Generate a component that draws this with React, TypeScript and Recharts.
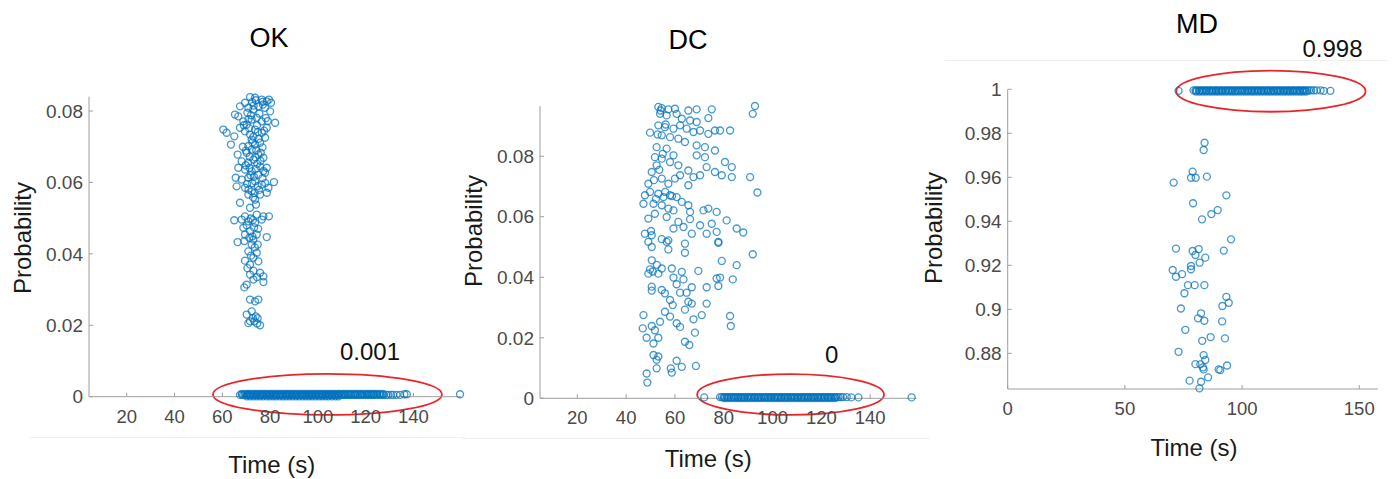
import { ScatterChart, Scatter, XAxis, YAxis, ReferenceArea } from "recharts";

// ---- OK panel ----
const okCluster: [number, number][] = [
  [71.6, 0.0839], [73.7, 0.0837], [76.5, 0.0832], [78.6, 0.0827], [80.4, 0.0823], [69.5, 0.0823],
  [67.4, 0.0813], [65.3, 0.079], [66.7, 0.0785], [70.9, 0.0809], [73.0, 0.0804], [75.1, 0.0813],
  [77.9, 0.0809], [80.0, 0.0799], [82.1, 0.0767], [68.8, 0.0771], [70.2, 0.0762], [72.3, 0.0776],
  [74.4, 0.0781], [76.5, 0.0771], [78.6, 0.0753], [67.4, 0.0753], [69.5, 0.0743], [71.6, 0.0734],
  [73.7, 0.0748], [76.5, 0.0739], [60.4, 0.0748], [61.8, 0.0739], [65.0, 0.0729], [63.6, 0.0706],
  [72.3, 0.072], [70.9, 0.0702], [73.7, 0.0706], [75.8, 0.0711], [77.9, 0.0725], [66.4, 0.0678],
  [70.2, 0.0683], [72.3, 0.0692], [75.1, 0.0678], [77.2, 0.0669], [68.1, 0.0659], [70.9, 0.0655],
  [73.0, 0.0664], [75.8, 0.0645], [78.6, 0.0641], [66.7, 0.0641], [69.5, 0.0636], [72.3, 0.0631],
  [75.1, 0.0622], [77.9, 0.0627], [65.6, 0.0613], [68.1, 0.0608], [70.9, 0.0613], [73.7, 0.0603],
  [76.5, 0.0594], [79.3, 0.0585], [81.6, 0.0601], [66.0, 0.0589], [69.5, 0.0585], [72.3, 0.0575],
  [75.8, 0.0566], [78.6, 0.0571], [70.9, 0.0566], [73.7, 0.0552], [67.4, 0.0543], [71.6, 0.0529],
  [69.5, 0.0505], [74.4, 0.051], [77.2, 0.0505], [79.5, 0.0505], [65.0, 0.0494], [68.1, 0.0496],
  [70.9, 0.0491], [73.7, 0.0487], [76.5, 0.0496], [68.8, 0.0473], [71.6, 0.0463], [74.4, 0.0454],
  [78.6, 0.0447], [69.5, 0.0454], [73.0, 0.044], [66.4, 0.0433], [69.2, 0.0436], [72.3, 0.0426],
  [74.8, 0.0426], [70.9, 0.0407], [74.4, 0.0403], [73.0, 0.0389], [69.5, 0.0381], [75.1, 0.0379],
  [71.6, 0.037], [73.0, 0.0353], [71.6, 0.0342], [75.8, 0.0347], [77.2, 0.0337], [73.0, 0.0328],
  [77.2, 0.0321], [70.2, 0.0314], [69.2, 0.0306], [71.6, 0.0272], [73.7, 0.0267], [75.1, 0.0272],
  [70.2, 0.023], [72.3, 0.0239], [74.0, 0.0225], [71.6, 0.0211], [73.4, 0.0211], [70.9, 0.0206],
  [75.8, 0.02], [74.8, 0.022],
  [72.5, 0.0825], [74.0, 0.083], [77.0, 0.0818], [79.5, 0.0832], [70.5, 0.0795], [72.0, 0.0788],
  [75.5, 0.0793], [78.2, 0.078], [69.0, 0.076], [71.2, 0.0752], [74.5, 0.076], [77.5, 0.0745],
  [73.0, 0.0728], [75.2, 0.0722], [68.6, 0.07], [74.2, 0.069], [76.8, 0.0698], [71.5, 0.0672],
  [73.8, 0.067], [76.0, 0.066], [69.8, 0.0648], [74.0, 0.0638], [77.2, 0.0632], [71.8, 0.062],
  [76.8, 0.0612], [72.5, 0.0598], [74.8, 0.059], [78.0, 0.0598], [71.0, 0.058], [73.5, 0.057],
  [72.8, 0.0495], [70.2, 0.048], [75.0, 0.047], [71.3, 0.0445], [73.6, 0.0418], [72.0, 0.0395],
  [70.5, 0.036], [74.5, 0.0335], [72.8, 0.022], [74.6, 0.0205],
  [73.1, 0.0815], [76.9, 0.0826], [71.0, 0.0777], [79.0, 0.0772], [74.9, 0.0741], [72.6, 0.0712],
  [69.9, 0.0689], [76.1, 0.0683], [74.6, 0.0652], [71.4, 0.0641], [73.2, 0.0616], [70.4, 0.0596],
  [75.4, 0.0579], [72.9, 0.0558], [74.1, 0.0538], [71.9, 0.0499], [73.3, 0.0474], [72.6, 0.0449],
];
const okBandMid = [
  67.4, 68.3, 68.8, 69.9, 70.4, 71.0, 71.9, 72.3, 73.2, 74.0, 74.5, 75.4, 76.2, 76.6, 77.5, 78.4,
  78.9, 79.8, 80.3, 81.1, 82.0, 82.6, 83.3, 84.1, 84.6, 85.5, 86.4, 86.9, 87.7, 88.5, 89.0, 89.9,
  90.7, 91.2, 92.0, 92.9, 93.4, 94.2, 95.0, 95.6, 96.5, 97.1, 97.8, 98.7, 99.3, 100.0, 100.9, 101.5,
  102.2, 103.1, 103.6, 104.5, 105.3, 105.8, 106.7, 107.4, 108.0, 108.9, 109.6, 110.2, 111.1, 111.7,
  112.5, 113.3, 113.8, 114.7, 115.5, 116.1, 116.8, 117.7, 118.3, 119.0, 119.9, 120.5, 121.2, 122.1,
  122.7, 123.4, 124.3, 125.0, 125.9, 126.8, 127.5, 128.6, 129.4, 130.6, 131.5, 132.9, 134.4,
];
const okBandTop = [
  68.1, 69.4, 70.6, 71.5, 72.8, 73.9, 75.0, 76.1, 77.3, 78.2, 79.5, 80.6, 81.7, 82.8, 83.9, 85.0,
  86.2, 87.2, 88.3, 89.5, 90.4, 91.6, 92.7, 93.8, 94.9, 96.0, 97.2, 98.1, 99.4, 100.5, 101.6, 102.6,
  103.8, 104.9, 106.0, 107.1, 108.3, 109.2, 110.5, 111.4, 112.6, 113.7, 114.9, 115.8, 117.0, 118.1,
  119.2, 120.4, 121.3, 122.5, 123.6, 124.7, 125.9, 127.3,
];
const okBandLow = [
  70.2, 71.6, 73.0, 74.3, 75.7, 77.0, 78.6, 79.9, 81.3, 82.5, 84.0, 85.3, 86.7, 88.0, 89.4, 90.8,
  92.1, 93.6, 94.9, 96.3, 97.6, 99.0, 100.5, 101.8, 103.2, 104.4, 105.9, 107.3, 108.6,
];
const okOutliers = [136.2, 137.2, 159.5];

// ---- DC panel ----
const dcCluster: [number, number][] = [
  [53.2, 0.0963], [54.6, 0.0959], [57.3, 0.0955], [60.0, 0.0957], [65.5, 0.0951], [68.9, 0.0955],
  [75.1, 0.0955], [92.8, 0.0966], [91.9, 0.094], [53.9, 0.094], [56.6, 0.0935], [60.7, 0.094],
  [62.8, 0.0924], [66.2, 0.0918], [68.9, 0.0913], [73.7, 0.0926], [49.8, 0.0878], [53.2, 0.0902],
  [55.9, 0.0896], [59.4, 0.0891], [62.1, 0.0902], [64.8, 0.0891], [67.6, 0.088], [70.3, 0.0885],
  [73.7, 0.0874], [76.4, 0.0885], [78.5, 0.0885], [82.6, 0.0885], [54.6, 0.0869], [58.0, 0.0863],
  [61.4, 0.0858], [64.1, 0.0847], [68.9, 0.0836], [72.3, 0.083], [76.4, 0.0819], [52.5, 0.083],
  [56.6, 0.0825], [59.4, 0.0803], [51.8, 0.0797], [54.6, 0.0792], [58.0, 0.0781], [61.4, 0.077],
  [65.5, 0.0753], [68.9, 0.0803], [72.3, 0.0797], [67.6, 0.0731], [70.3, 0.0737], [73.0, 0.0764],
  [76.4, 0.0748], [79.2, 0.0737], [80.5, 0.0781], [83.3, 0.0764], [83.3, 0.0731], [90.8, 0.0731],
  [93.8, 0.068], [49.1, 0.0709], [50.5, 0.0748], [52.5, 0.077], [54.6, 0.0726], [57.3, 0.0709],
  [60.0, 0.0726], [62.1, 0.0737], [65.5, 0.0704], [47.7, 0.0671], [49.8, 0.0682], [53.2, 0.0676],
  [55.3, 0.0665], [58.0, 0.0671], [60.7, 0.0665], [62.8, 0.0649], [65.5, 0.0638], [47.1, 0.0643],
  [51.2, 0.0643], [54.6, 0.0638], [57.3, 0.0627], [59.4, 0.0621], [66.2, 0.0616], [71.7, 0.0621],
  [73.7, 0.0627], [77.1, 0.0616], [49.1, 0.0594], [51.8, 0.061], [56.6, 0.0599], [61.4, 0.0583],
  [66.2, 0.0592], [70.3, 0.0572], [75.1, 0.0577], [81.2, 0.0588], [85.3, 0.0561], [88.0, 0.0548],
  [47.7, 0.0544], [50.5, 0.0539], [54.6, 0.0526], [57.3, 0.0522], [59.4, 0.0561], [63.5, 0.0566],
  [66.9, 0.0544], [73.0, 0.0544], [77.1, 0.055], [77.8, 0.0517],
  [49.1, 0.0517], [50.5, 0.05], [56.6, 0.0517], [57.3, 0.0492], [64.1, 0.0511], [64.1, 0.0481],
  [77.8, 0.0514], [91.9, 0.0476], [79.2, 0.0454], [85.3, 0.044], [50.5, 0.0456], [49.8, 0.0426],
  [53.2, 0.0412], [54.6, 0.0429], [58.7, 0.0429], [62.8, 0.0418], [69.6, 0.0421], [49.1, 0.0412],
  [59.4, 0.0399], [63.5, 0.0393], [60.7, 0.0377], [77.1, 0.0396], [78.5, 0.0399], [83.7, 0.0393],
  [77.8, 0.0371], [50.5, 0.0369], [50.5, 0.0356], [54.6, 0.0358], [55.9, 0.0347], [58.0, 0.0325],
  [62.1, 0.0349], [64.8, 0.0349], [66.9, 0.0367], [73.0, 0.0367], [65.5, 0.0319], [66.9, 0.0313],
  [64.1, 0.0293], [73.0, 0.0313], [59.1, 0.0308], [47.1, 0.0275], [46.8, 0.0231], [50.5, 0.0239],
  [51.8, 0.0225], [53.9, 0.0253], [55.9, 0.0286], [58.0, 0.027], [60.7, 0.0248], [62.1, 0.0236],
  [67.6, 0.0261], [71.0, 0.0275], [82.6, 0.0272], [82.9, 0.0239], [48.4, 0.02], [51.2, 0.0181],
  [53.2, 0.02], [64.1, 0.0187], [65.9, 0.0176], [68.2, 0.0217], [51.2, 0.0143], [53.2, 0.0138],
  [52.5, 0.0127], [60.7, 0.0124], [62.8, 0.0104], [68.6, 0.0107], [58.3, 0.0099], [58.7, 0.0085],
  [52.5, 0.0099], [48.4, 0.0082], [48.7, 0.0052],
  [54.1, 0.0951], [56.2, 0.0905], [52.9, 0.0872], [55.0, 0.0808], [53.6, 0.0755], [51.4, 0.0721],
  [56.0, 0.0682], [58.8, 0.0668], [52.2, 0.0659], [50.2, 0.0553], [52.6, 0.0441], [50.9, 0.0419],
];
const dcBandTop = [
  78.5, 79.3, 80.0, 80.6, 81.5, 82.1, 82.9, 83.7, 84.2, 85.1, 85.9, 86.4, 87.3, 88.0, 88.6, 89.5,
  90.2, 90.8, 91.7, 92.4, 93.0, 93.9, 94.6, 95.2, 96.1, 96.8, 97.4, 98.3, 99.0, 99.6, 100.5, 101.2,
  101.8, 102.7, 103.4, 104.0, 104.9, 105.6, 106.2, 107.1, 107.8, 108.4, 109.3, 110.0, 110.6, 111.5,
  112.2, 112.8, 113.7, 114.4, 115.0, 115.9, 116.6, 117.2, 118.1, 118.8, 119.4, 120.3, 121.0, 121.6,
  122.5, 123.2, 123.8, 124.7, 125.5, 126.2, 127.0, 127.9, 128.9, 130.4,
];
const dcBandLow = [
  80.2, 81.6, 83.0, 84.5, 85.8, 87.1, 88.5, 89.9, 91.2, 92.6, 94.0, 95.4, 96.7, 98.1, 99.4, 100.8,
  102.2, 103.5, 104.9, 106.3, 107.6, 109.0, 110.4, 111.7, 113.1, 114.5, 115.8, 117.2, 118.6, 119.9,
  121.3, 122.7, 124.0, 125.6,
];
const dcOutliers = [72.0, 132.3, 135.2, 157.0];

// ---- MD panel ----
const mdCluster: [number, number][] = [
  [84.0, 0.9757], [83.6, 0.9724], [78.9, 0.9626], [78.2, 0.9598], [80.2, 0.9598], [85.0, 0.9603],
  [70.8, 0.9576], [93.3, 0.9518], [79.1, 0.9482], [89.6, 0.9451], [86.9, 0.9433], [82.9, 0.9409],
  [95.3, 0.9318], [71.8, 0.9276], [78.9, 0.9265], [81.5, 0.9274], [80.1, 0.9247], [92.2, 0.9267],
  [84.3, 0.9235], [81.9, 0.9212], [78.2, 0.9197], [78.2, 0.9182], [70.4, 0.9179], [71.8, 0.9148],
  [74.4, 0.916], [76.9, 0.911], [79.8, 0.911], [83.9, 0.911], [75.4, 0.9073], [93.3, 0.9057],
  [94.3, 0.903], [91.6, 0.9015], [73.9, 0.9004], [82.5, 0.8982], [81.2, 0.8959], [83.9, 0.8948],
  [91.5, 0.8945], [75.8, 0.8907], [83.0, 0.8857], [86.6, 0.8874], [92.7, 0.8868], [72.9, 0.8807],
  [83.6, 0.8792], [84.3, 0.877], [80.1, 0.8751], [82.2, 0.875], [83.3, 0.8736], [83.6, 0.8727],
  [90.0, 0.8727], [90.7, 0.8724], [93.6, 0.8745], [77.6, 0.8676], [82.5, 0.8671], [85.5, 0.8691],
  [81.8, 0.8641],
];
const mdBandTop = [
  79.3, 80.1, 80.7, 81.6, 82.3, 82.9, 83.8, 84.5, 85.1, 86.0, 86.7, 87.3, 88.2, 88.9, 89.5, 90.4,
  91.1, 91.7, 92.6, 93.3, 93.9, 94.8, 95.5, 96.1, 97.0, 97.7, 98.3, 99.2, 99.9, 100.5, 101.4, 102.1,
  102.7, 103.6, 104.3, 104.9, 105.8, 106.5, 107.1, 108.0, 108.7, 109.3, 110.2, 110.9, 111.5, 112.4,
  113.1, 113.7, 114.6, 115.3, 115.9, 116.8, 117.5, 118.1, 119.0, 119.7, 120.3, 121.2, 121.9, 122.5,
  123.4, 124.1, 124.7, 125.6, 126.3, 126.9, 127.8, 128.6, 129.5, 130.6, 131.8, 133.5,
];
const mdBandLow = [
  80.4, 81.8, 83.2, 84.6, 86.0, 87.4, 88.8, 90.1, 91.5, 92.9, 94.3, 95.7, 97.0, 98.4, 99.8, 101.2,
  102.6, 104.0, 105.3, 106.7, 108.1, 109.5, 110.9, 112.2, 113.6, 115.0, 116.4, 117.8, 119.1, 120.5,
  121.9, 123.3, 124.7, 126.0, 127.4,
];
const mdOutliers = [72.9, 134.9, 137.7];

// axis ticks
const okXTicks = [20, 40, 60, 80, 100, 120, 140];
const okYTicks = [0, 0.02, 0.04, 0.06, 0.08];
const dcXTicks = [20, 40, 60, 80, 100, 120, 140];
const dcYTicks = [0, 0.02, 0.04, 0.06, 0.08];
const mdXTicks = [0, 50, 100, 150];
const mdYTicks = [0.88, 0.9, 0.92, 0.94, 0.96, 0.98, 1];

const BLUE = "#0072BD";
const AXIS = "#9e9e9e";
const TICK_TEXT = "#4a4a4a";

const pairs = (list: [number, number][]) => list.map(([x, y]) => ({ x, y }));
const row = (xs: number[], y: number) => xs.map((x) => ({ x, y }));

const Ring = (p: any) => (
  <circle cx={p.cx} cy={p.cy} r={3.5} fill="none" stroke={BLUE} strokeOpacity={0.72} strokeWidth={1.35} />
);

const Oval = (p: any) => (
  <ellipse
    cx={p.x + p.width / 2}
    cy={p.y + p.height / 2}
    rx={Math.abs(p.width) / 2}
    ry={Math.abs(p.height) / 2}
    fill="none"
    stroke="#e8262a"
    strokeWidth={1.8}
  />
);

function Panel(props: any) {
  const { left, width, margin, xDomain, xTicks, yDomain, yTicks, xTickMargin, points, oval } = props;
  return (
    <div style={{ position: "absolute", left, top: 0 }}>
      <ScatterChart width={width} height={479} margin={margin}>
        <XAxis
          type="number"
          dataKey="x"
          domain={xDomain}
          ticks={xTicks}
          interval={0}
          height={30}
          tickSize={-4}
          tickMargin={xTickMargin}
          stroke={AXIS}
          tick={{ fill: TICK_TEXT, fontSize: 18.5 }}
        />
        <YAxis
          type="number"
          dataKey="y"
          domain={yDomain}
          ticks={yTicks}
          interval={0}
          width={60}
          tickSize={-4}
          tickMargin={10}
          stroke={AXIS}
          tick={{ fill: TICK_TEXT, fontSize: 19 }}
        />
        <Scatter data={points} shape={Ring} isAnimationActive={false} />
        <ReferenceArea
          x1={oval[0]}
          x2={oval[1]}
          y1={oval[2]}
          y2={oval[3]}
          ifOverflow="visible"
          shape={Oval}
        />
      </ScatterChart>
    </div>
  );
}

function Label({ x, y, size, color = "#1a1a1a", rotate = false, children }: any) {
  return (
    <div
      style={{
        position: "absolute",
        left: x,
        top: y,
        fontSize: size,
        lineHeight: 1,
        color,
        whiteSpace: "nowrap",
        transform: `translate(-50%, -50%)${rotate ? " rotate(-90deg)" : ""}`,
      }}
    >
      {children}
    </div>
  );
}

const Faint = ({ x, y, w }: any) => (
  <div style={{ position: "absolute", left: x, top: y, width: w, height: 1, background: "#efefef" }} />
);

export default function App() {
  const okPoints = [
    ...pairs(okCluster),
    ...row(okBandTop, 0.0008),
    ...row(okBandMid, 0.0005),
    ...row(okBandLow, 0.0001),
    ...row(okOutliers, 0.0007),
  ];
  const dcPoints = [
    ...pairs(dcCluster),
    ...row(dcBandTop, 0.0004),
    ...row(dcBandLow, 0.0001),
    ...row(dcOutliers, 0.0003),
  ];
  const mdPoints = [
    ...pairs(mdCluster),
    ...row(mdBandTop, 0.9995),
    ...row(mdBandLow, 0.999),
    ...row(mdOutliers, 0.9993),
  ];

  return (
    <div
      style={{
        position: "absolute",
        left: 0,
        top: 0,
        width: 1392,
        height: 479,
        background: "#ffffff",
        overflow: "hidden",
        fontFamily: "'Liberation Sans', Arial, sans-serif",
      }}
    >
      <Faint x={30} y={437} w={435} />
      <Faint x={463} y={438} w={467} />
      <Faint x={945} y={60} w={442} />

      <Panel
        left={0}
        width={470}
        margin={{ top: 96.7, right: 9, bottom: 52.3, left: 29 }}
        xDomain={[4.2, 159.9]}
        xTicks={okXTicks}
        yDomain={[0, 0.084]}
        yTicks={okYTicks}
        xTickMargin={17}
        points={okPoints}
        oval={[56.1, 151.9, 0.0064, -0.0051]}
      />
      <Panel
        left={470}
        width={460}
        margin={{ top: 106, right: 13.5, bottom: 50.7, left: 10 }}
        xDomain={[4.7, 159]}
        xTicks={dcXTicks}
        yDomain={[0, 0.0965]}
        yTicks={dcYTicks}
        xTickMargin={17}
        points={dcPoints}
        oval={[69.1, 145.7, 0.008, -0.0055]}
      />
      <Panel
        left={930}
        width={462}
        margin={{ top: 89.3, right: 14, bottom: 60, left: 17.7 }}
        xDomain={[0, 158]}
        xTicks={mdXTicks}
        yDomain={[0.8638, 1]}
        yTicks={mdYTicks}
        xTickMargin={16.5}
        points={mdPoints}
        oval={[71.9, 152.7, 1.0085, 0.9898]}
      />

      <Label x={269} y={38} size={27} color="#000">OK</Label>
      <Label x={688} y={40} size={27} color="#000">DC</Label>
      <Label x={1197} y={24} size={27} color="#000">MD</Label>

      <Label x={22.5} y={237.5} size={24} rotate>Probability</Label>
      <Label x={474} y={230.5} size={24} rotate>Probability</Label>
      <Label x={934} y={228} size={24} rotate>Probability</Label>

      <Label x={271.7} y={464.7} size={24}>Time (s)</Label>
      <Label x={708.3} y={459} size={24}>Time (s)</Label>
      <Label x={1194} y={447.5} size={24}>Time (s)</Label>

      <Label x={370} y={351.7} size={24} color="#111">0.001</Label>
      <Label x={831.7} y={355} size={24} color="#111">0</Label>
      <Label x={1332.5} y={48.5} size={24} color="#111">0.998</Label>
    </div>
  );
}
